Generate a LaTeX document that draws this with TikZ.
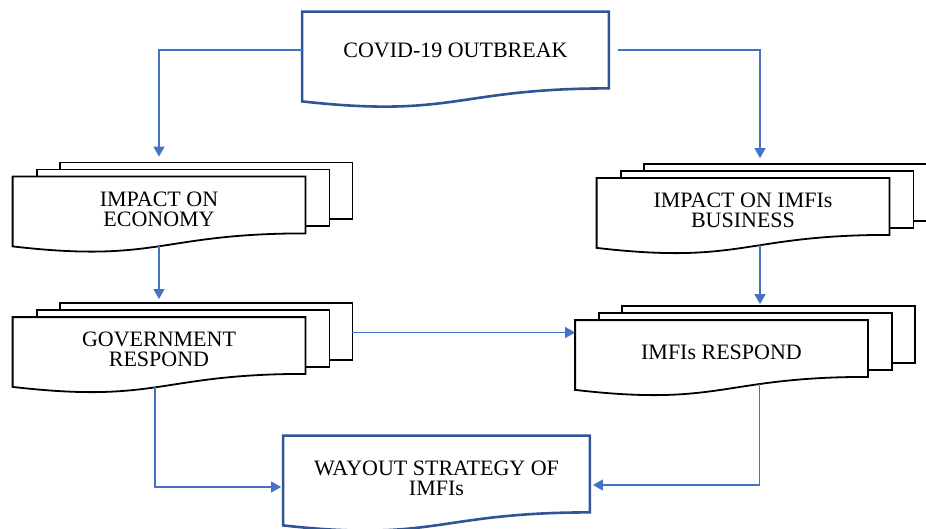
\documentclass[tikz,border=0pt]{standalone}
\usepackage{fontspec}
\setmainfont{Liberation Serif}
\definecolor{edgeblue}{RGB}{47,85,151}
\definecolor{flowblue}{RGB}{68,114,196}
\usepackage{tikz}
\usetikzlibrary{arrows.meta,calc,backgrounds}
\newcommand{\pagestrut}{\rule{0pt}{11.3pt}}
\newcommand{\wavypage}[2][]{\draw[page,#1] (#2.north west) -- (#2.north east) -- (#2.south east)
  .. controls (#2.south) and ($(#2.south)+(0,30)$) .. ($(#2.south west)+(0,13)$) -- cycle;}
\newcommand{\backpage}[2]{\draw[page] ([shift={#2}]#1.north west) rectangle ([shift={#2}]#1.south east);}
\newcommand{\stackpages}[1]{\backpage{#1}{(47,-14)}\backpage{#1}{(24,-7)}\wavypage{#1}}

\begin{document}
\begin{tikzpicture}[x=0.5pt, y=-0.5pt, font=\fontsize{11pt}{10pt}\selectfont,
    page/.style={draw=black, line width=0.9pt, fill=white},
    doc/.style={align=center, inner sep=0pt, minimum width=153pt, minimum height=38pt},
    multi/.style={align=center, inner sep=0pt, minimum width=146pt, minimum height=28pt},
    arr/.style={flowblue, line width=0.7pt, -{Triangle[width=5.5pt,length=5pt]}}]
          \useasboundingbox (0,0) rectangle (926,529);
          \node[doc] (covid) at (455.5,50) {COVID-19 OUTBREAK};
          \node[multi] (econ) at (159,205) {\pagestrut IMPACT ON\\ECONOMY};
          \node[multi] (impbiz) at (743,206.5) {\pagestrut IMPACT ON IMFIs\\BUSINESS};
          \node[multi] (gov) at (159,345.5) {\pagestrut GOVERNMENT\\RESPOND};
          \node[multi] (imfresp) at (721.5,348.5) {\pagestrut IMFIs RESPOND};
          \node[doc] (wayout) at (436.5,474) {\pagestrut WAYOUT STRATEGY OF\\IMFIs};
          \begin{scope}[on background layer]
            \clip (0,0) rectangle (926,529);
            \wavypage[draw=edgeblue, line width=1.3pt]{covid}
            \stackpages{econ}
            \stackpages{impbiz}
            \stackpages{gov}
            \stackpages{imfresp}
            \wavypage[draw=edgeblue, line width=1.3pt]{wayout}
          \end{scope}
          \coordinate (govout) at ($(gov.east)+(47,-13)$);
          \draw[arr, shorten >=10pt] (covid.west) -| (econ.north);
          \draw[arr, shorten <=4.5pt, shorten >=10pt] (covid.east) -| ($(impbiz.north)+(17,0)$);
          \draw[arr, shorten >=9pt] ($(econ.south)+(0,13)$) -- (gov.north);
          \draw[arr, shorten >=8pt] ($(impbiz.south)+(17,10)$) -- ($(imfresp.north)+(38.5,0)$);
          \draw[arr] (govout) -- (govout -| imfresp.west);
          \draw[arr, shorten >=1pt] ($(gov.south)+(-4,13)$) |- ($(wayout.west)+(0,13)$);
          \draw[arr] ($(imfresp.south)+(38,7)$) |- ($(wayout.east)+(3,11)$);
        \end{tikzpicture}
\end{document}
